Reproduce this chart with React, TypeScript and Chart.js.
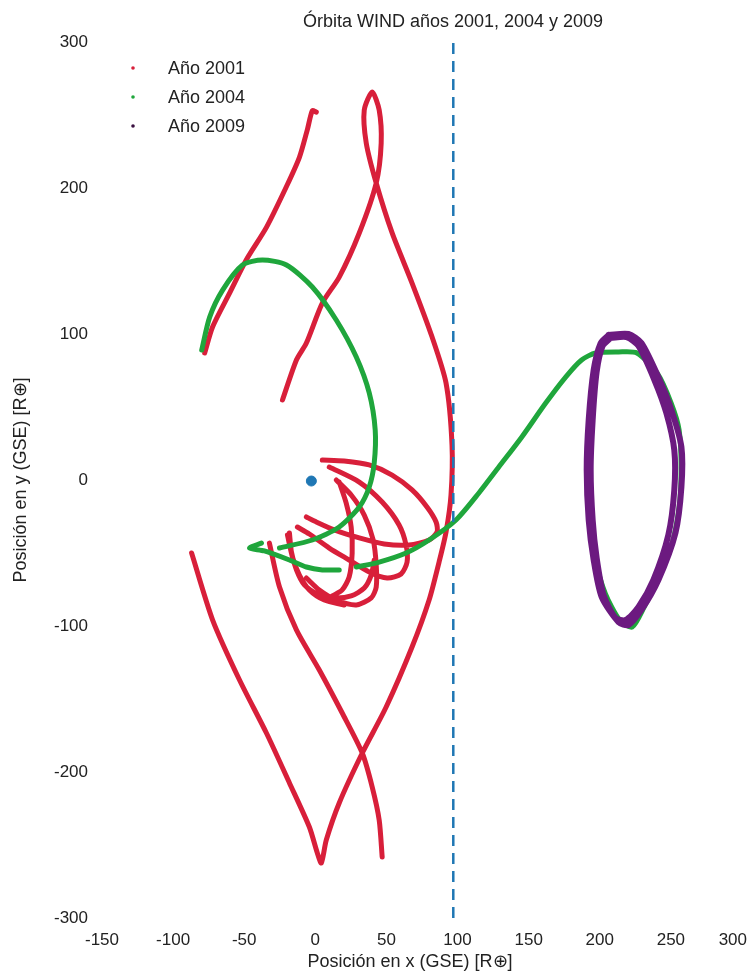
import React, { useEffect, useRef } from "react";
import { Chart, registerables } from "chart.js";

Chart.register(...registerables);

type P = [number, number];

const TITLE = "Órbita WIND años 2001, 2004 y 2009";
const X_TITLE = "Posición en x (GSE) [R⊕]";
const Y_TITLE = "Posición en y (GSE) [R⊕]";
const LEGEND_LABELS = ["Año 2001", "Año 2004", "Año 2009"];
const X_TICKS = [-150, -100, -50, 0, 50, 100, 150, 200, 250, 300];
const Y_TICKS = [-300, -200, -100, 0, 100, 200, 300];
const DASHED_X = 97;
const EARTH: P = [-2.8, -0.7];

// ---- Año 2001 (red) ----
const red2001Arm: P[] = [
  [0.7, 252], [-2.1, 253], [-5.6, 240], [-11.2, 221], [-20.3, 201], [-34.4, 173],
  [-48.4, 151], [-60.3, 128], [-72.2, 105], [-77.8, 87],
];
const red2001Lens: P[] = [
  [-87.0, -50.0], [-72.2, -95.9], [-53.3, -137.0], [-34.4, -173.3], [-18.2, -207.5],
  [-4.2, -237.7], [1.4, -255.5], [4.2, -262.3], [7.7, -246.6], [16.8, -221.2],
  [33.0, -187.0], [49.8, -155.5], [68.0, -114.4], [80.0, -82.2], [87.0, -56.2],
  [91.9, -35.6], [95.4, -10.3], [96.1, 24.0], [91.9, 66.4], [82.1, 97.9],
  [68.0, 134.9], [54.0, 169.2], [42.8, 203.4], [35.8, 230.8], [34.4, 253.4],
  [40.0, 265.7], [44.9, 253.4], [46.3, 230.8], [42.8, 203.4], [30.9, 169.2],
  [16.8, 139.0], [4.9, 121.2], [-6.3, 93.8], [-13.3, 82.2], [-23.1, 54.8],
];
const red2001Cross: P[] = [
  [-32.3, -43.2], [-25.2, -73.3], [-13.3, -102.7], [2.8, -130.1], [18.9, -159.6],
  [33.0, -187.0], [40.0, -210.3], [44.9, -232.9], [47.0, -258.2],
];
const red2001LoopA: P[] = [
  [4.9, 13.7], [20.3, 13.0], [37.9, 10.3], [54.0, 3.4], [68.0, -6.8], [78.5, -18.5],
  [84.9, -28.8], [85.6, -35.6], [80.0, -41.1], [65.9, -44.5], [48.4, -43.8],
  [30.9, -39.7], [13.3, -34.2], [-0.7, -28.1], [-6.3, -25.3],
];
const red2001LoopB: P[] = [
  [9.8, 8.9], [30.9, -1.4], [47.0, -15.1], [58.9, -30.8], [63.8, -44.5], [64.5, -56.2],
  [60.3, -64.4], [50.5, -67.1], [37.9, -63.0], [23.8, -54.8], [9.8, -46.6],
  [-4.2, -37.0], [-12.6, -32.2],
];
const red2001LoopC: P[] = [
  [14.7, 0], [25.2, -10.3], [34.4, -24.0], [40.7, -41.1], [42.8, -58.2], [42.8, -73.3],
  [39.3, -80.8], [28.8, -85.6], [14.7, -82.2], [2.8, -75.3], [-6.3, -67.1],
];
const red2001LoopD: P[] = [
  [-18.2, -36.3], [-16.8, -49.3], [-13.3, -61.6], [-7.7, -71.9], [1.4, -78.1],
  [13.3, -80.8], [25.2, -79.4], [34.4, -74.0], [39.3, -65.1], [41.4, -54.8],
];
const red2001LoopE: P[] = [
  [16.8, -1.4], [21.7, -15.8], [25.2, -32.2], [25.9, -50.0], [23.8, -66.4],
  [18.9, -75.3], [11.9, -79.4],
];
const red2001LoopF: P[] = [
  [-19.6, -37.7], [-16.1, -52.7], [-11.2, -65.1], [-4.2, -75.3], [6.3, -82.2],
  [20.3, -85.6],
];

// ---- Año 2004 (green) ----
const green2004Arc: P[] = [
  [-79.9, 89.0], [-74.3, 111.6], [-65.2, 130.1], [-51.2, 147.3], [-37.2, 150.7],
  [-20.3, 147.3], [-2.1, 132.2], [14.7, 109.6], [28.8, 84.2], [37.9, 59.6],
  [42.1, 34.2], [41.4, 11.6], [37.9, -4.8], [30.9, -18.5], [16.8, -32.2],
  [-2.1, -41.1], [-25.2, -46.6],
];
const green2004Cusp: P[] = [
  [-37.9, -43.2], [-46.3, -46.6], [-35.8, -48.6], [-18.2, -54.8], [-6.3, -59.6],
  [4.9, -61.6], [16.8, -61.6],
];
const green2004Transfer: P[] = [
  [28.8, -59.6], [44.9, -56.2], [63.8, -50.0], [80.0, -41.1], [98.9, -27.4],
  [115.0, -8.9], [129.0, 8.9], [145.2, 29.5], [162.0, 52.7], [176.0, 70.5],
  [187.2, 82.2], [197.1, 87.0], [213.2, 87.7], [226.1, 87.0], [240.3, 73.3],
  [250.2, 52.7], [255.8, 34.2], [257.2, 6.8], [255.8, -18.5], [250.2, -45.9],
  [240.3, -68.5], [231.2, -87.0], [222.8, -100.7], [214.0, -96.0], [204.0, -78.0],
  [197.0, -55.0], [195.0, -38.0],
];

// ---- Año 2009 (purple) ----
const purple2009Outer: P[] = [
  [206.2, 99.3], [220.2, 100.0], [229.3, 93.8], [241.2, 70.5], [250.4, 47.9],
  [257.4, 22.6], [257.4, -4.8], [253.2, -36.3], [241.2, -68.5], [229.3, -89.0],
  [220.2, -99.3], [213.2, -97.3], [201.3, -80.1], [195.7, -54.8], [192.2, -27.4],
  [190.8, 6.8], [192.2, 41.1], [195.7, 75.3], [200.6, 93.8], [206.2, 99.3],
];
const purple2009Inner: P[] = [
  [207.6, 97.3], [218.8, 97.9], [227.2, 91.8], [238.4, 68.5], [246.8, 45.9],
  [252.4, 20.5], [252.4, -6.8], [248.2, -37.7], [237.7, -68.5], [227.2, -87.0],
  [218.1, -95.9], [211.1, -94.5], [202.7, -78.8], [197.8, -53.4], [195.0, -27.4],
  [193.6, 6.8], [195.0, 41.1], [197.8, 74.0], [202.0, 91.8], [207.6, 97.3],
];

const RED = "#d81f3a";
const GREEN = "#1fa63c";
const PURPLE = "#6c1a80";
const BLUE = "#1f77b4";
const TEXT = "#222";
const LEGEND_COLORS = [RED, GREEN, "#3a1040"];

function join(segs: P[][]) {
  const out: { x: number; y: number | null }[] = [];
  segs.forEach((s, i) => {
    if (i > 0) out.push({ x: s[0][0], y: null });
    s.forEach(([x, y]) => out.push({ x, y }));
  });
  return out;
}

const FONT = "'Liberation Sans', Arial, sans-serif";

const overlayPlugin = {
  id: "overlay",
  afterDraw(chart: any) {
    const ctx = chart.ctx as CanvasRenderingContext2D;
    const xs = chart.scales.x;
    ctx.save();
    ctx.fillStyle = TEXT;
    ctx.textBaseline = "middle";
    // title
    ctx.font = `18px ${FONT}`;
    ctx.textAlign = "center";
    ctx.fillText(TITLE, 445, 14);
    // x tick labels (kept inside the canvas)
    ctx.font = `17px ${FONT}`;
    X_TICKS.forEach((v) => {
      const s = String(v);
      const w = ctx.measureText(s).width;
      const px = Math.min(xs.getPixelForValue(v), chart.width - w / 2 - 1);
      ctx.fillText(s, px, 932);
    });
    // x axis title
    ctx.font = `18px ${FONT}`;
    ctx.fillText(X_TITLE, 402, 954);
    // legend
    ctx.font = `18px ${FONT}`;
    ctx.textAlign = "left";
    LEGEND_LABELS.forEach((lab, i) => {
      const y = 60 + i * 29;
      ctx.fillStyle = LEGEND_COLORS[i];
      ctx.beginPath();
      ctx.arc(125, y, 1.8, 0, Math.PI * 2);
      ctx.fill();
      ctx.fillStyle = TEXT;
      ctx.fillText(lab, 160, y + 1);
    });
    ctx.restore();
  },
};

export default function App() {
  const ref = useRef<HTMLCanvasElement>(null);
  useEffect(() => {
    const line = (data: any, color: string, width: number, order: number) => ({
      data,
      showLine: true,
      borderColor: color,
      backgroundColor: color,
      borderWidth: width,
      pointRadius: 0,
      tension: 0.25,
      borderCapStyle: "round",
      borderJoinStyle: "round",
      spanGaps: false,
      order,
    });
    const chart = new Chart(ref.current!, {
      type: "scatter",
      data: {
        datasets: [
          line(join([red2001Arm, red2001Lens, red2001Cross, red2001LoopA, red2001LoopB, red2001LoopC, red2001LoopD, red2001LoopE, red2001LoopF]), RED, 5, 5),
          line(join([green2004Arc, green2004Cusp, green2004Transfer]), GREEN, 5, 4),
          line(join([purple2009Outer, purple2009Inner]), PURPLE, 6, 3),
          {
            data: [{ x: DASHED_X, y: -300 }, { x: DASHED_X, y: 300 }],
            showLine: true,
            borderColor: BLUE,
            borderWidth: 2.5,
            borderDash: [11, 7],
            pointRadius: 0,
            order: 2,
          },
          {
            data: [{ x: EARTH[0], y: EARTH[1] }],
            pointRadius: 5,
            backgroundColor: BLUE,
            borderColor: BLUE,
            order: 1,
          },
        ] as any,
      },
      options: {
        responsive: false,
        animation: false,
        events: [],
        layout: { padding: { top: 34, right: 0, left: 0, bottom: 0 } },
        plugins: { legend: { display: false }, tooltip: { enabled: false }, title: { display: false } },
        scales: {
          x: {
            type: "linear",
            min: -150,
            max: 300,
            afterBuildTicks: (s: any) => { s.ticks = X_TICKS.map((v) => ({ value: v })); },
            afterFit: (s: any) => { s.height = 54; s.paddingLeft = 0; s.paddingRight = 6; },
            grid: { display: false, drawTicks: false },
            border: { display: false },
            ticks: { display: false },
            title: { display: false },
          },
          y: {
            type: "linear",
            min: -300,
            max: 300,
            afterBuildTicks: (s: any) => { s.ticks = Y_TICKS.map((v) => ({ value: v })); },
            afterFit: (s: any) => { s.width = 94; },
            grid: { display: false, drawTicks: false },
            border: { display: false },
            ticks: { padding: 14, color: TEXT, font: { family: FONT, size: 17 } },
            title: { display: true, text: Y_TITLE, color: TEXT, font: { family: FONT, size: 18 }, padding: { top: 2, bottom: 0 } },
          },
        },
      } as any,
      plugins: [overlayPlugin],
    });
    return () => chart.destroy();
  }, []);
  return (
    <canvas
      ref={ref}
      width={740}
      height={964}
      style={{ display: "block", width: 740, height: 964 }}
    />
  );
}
